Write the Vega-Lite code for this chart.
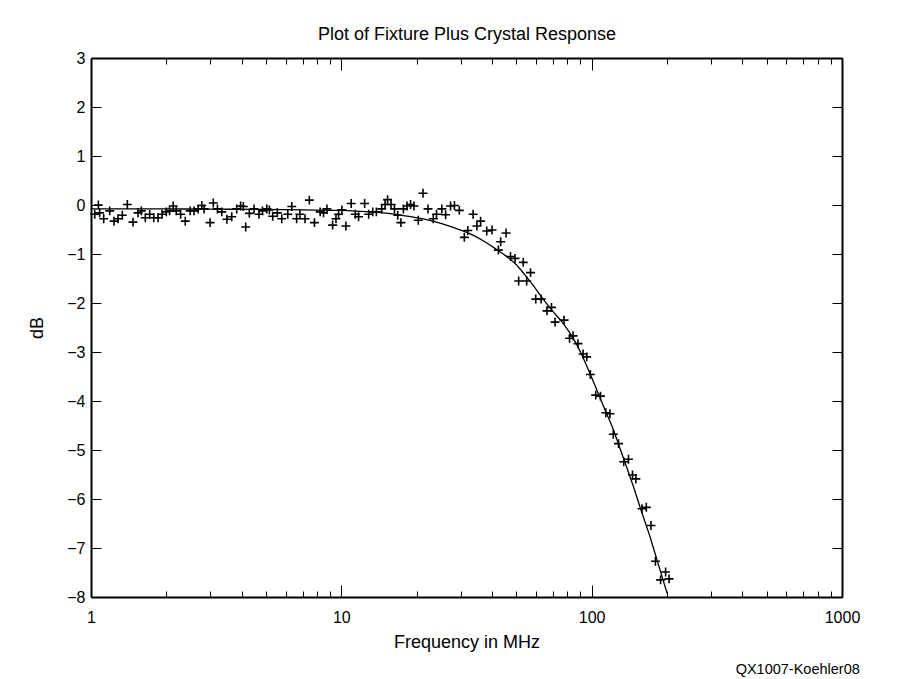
{
  "$schema": "https://vega.github.io/schema/vega-lite/v6.json",
  "width": 751,
  "height": 539,
  "autosize": {"type": "none"},
  "padding": {"left": 91, "top": 58, "right": 58, "bottom": 82},
  "background": "white",
  "config": {
    "font": "Liberation Sans",
    "view": {"stroke": null},
    "axis": {
      "domainColor": "black",
      "domainWidth": 2,
      "tickColor": "black",
      "tickWidth": 1,
      "labelColor": "black",
      "titleColor": "black",
      "labelFontSize": 16,
      "titleFontSize": 18,
      "titleFontWeight": "normal",
      "grid": false
    }
  },
  "title": {
    "text": "QX1007-Koehler08",
    "orient": "bottom",
    "anchor": "end",
    "fontSize": 14.5,
    "fontWeight": "normal",
    "color": "black",
    "offset": 12
  },
  "datasets": {
    "pts": [
      {"f": 1.035, "db": -0.19}, {"f": 1.07, "db": 0.0}, {"f": 1.083, "db": -0.16}, {"f": 1.124, "db": -0.28},
      {"f": 1.188, "db": -0.12}, {"f": 1.236, "db": -0.33}, {"f": 1.282, "db": -0.28}, {"f": 1.334, "db": -0.21},
      {"f": 1.397, "db": 0.01}, {"f": 1.471, "db": -0.35}, {"f": 1.541, "db": -0.16}, {"f": 1.589, "db": -0.12},
      {"f": 1.648, "db": -0.26}, {"f": 1.716, "db": -0.19}, {"f": 1.781, "db": -0.26}, {"f": 1.853, "db": -0.26},
      {"f": 1.922, "db": -0.19}, {"f": 2.0, "db": -0.14}, {"f": 2.06, "db": -0.12}, {"f": 2.13, "db": -0.02},
      {"f": 2.19, "db": -0.12}, {"f": 2.28, "db": -0.19}, {"f": 2.38, "db": -0.33}, {"f": 2.49, "db": -0.12},
      {"f": 2.58, "db": -0.12}, {"f": 2.68, "db": -0.08}, {"f": 2.77, "db": -0.01}, {"f": 2.83, "db": -0.08},
      {"f": 2.99, "db": -0.36}, {"f": 3.08, "db": 0.04}, {"f": 3.2, "db": -0.08}, {"f": 3.33, "db": -0.14},
      {"f": 3.49, "db": -0.29}, {"f": 3.65, "db": -0.24}, {"f": 3.82, "db": -0.08}, {"f": 3.96, "db": -0.02},
      {"f": 4.06, "db": -0.03}, {"f": 4.15, "db": -0.45}, {"f": 4.29, "db": -0.17}, {"f": 4.48, "db": -0.08},
      {"f": 4.69, "db": -0.19}, {"f": 4.84, "db": -0.12}, {"f": 5.04, "db": -0.08}, {"f": 5.16, "db": -0.1},
      {"f": 5.32, "db": -0.23}, {"f": 5.55, "db": -0.16}, {"f": 5.78, "db": -0.28}, {"f": 6.11, "db": -0.19},
      {"f": 6.34, "db": -0.03}, {"f": 6.63, "db": -0.28}, {"f": 6.83, "db": -0.19}, {"f": 7.16, "db": -0.28},
      {"f": 7.45, "db": 0.1}, {"f": 7.81, "db": -0.36}, {"f": 8.23, "db": -0.14}, {"f": 8.49, "db": -0.16},
      {"f": 8.76, "db": -0.08}, {"f": 9.23, "db": -0.41}, {"f": 9.52, "db": -0.28}, {"f": 9.75, "db": -0.19},
      {"f": 10.05, "db": -0.1}, {"f": 10.43, "db": -0.43}, {"f": 10.95, "db": 0.03}, {"f": 11.37, "db": -0.19},
      {"f": 11.72, "db": -0.24}, {"f": 12.39, "db": 0.03}, {"f": 12.86, "db": -0.19}, {"f": 13.35, "db": -0.14},
      {"f": 13.8, "db": -0.14}, {"f": 14.5, "db": -0.08}, {"f": 14.95, "db": 0.01}, {"f": 15.3, "db": 0.11},
      {"f": 15.8, "db": 0.01}, {"f": 16.3, "db": -0.08}, {"f": 16.8, "db": -0.21}, {"f": 17.3, "db": -0.36},
      {"f": 17.7, "db": -0.08}, {"f": 18.3, "db": -0.02}, {"f": 18.9, "db": 0.01}, {"f": 19.5, "db": -0.02},
      {"f": 20.3, "db": -0.31}, {"f": 21.2, "db": 0.24}, {"f": 22.2, "db": -0.08}, {"f": 23.3, "db": -0.28},
      {"f": 24.0, "db": -0.19}, {"f": 25.2, "db": -0.08}, {"f": 26.1, "db": -0.2}, {"f": 27.3, "db": -0.02},
      {"f": 28.3, "db": -0.01}, {"f": 29.6, "db": -0.11}, {"f": 31.0, "db": -0.66}, {"f": 32.0, "db": -0.52},
      {"f": 33.6, "db": -0.19}, {"f": 34.8, "db": -0.43}, {"f": 36.0, "db": -0.33}, {"f": 38.1, "db": -0.53},
      {"f": 40.0, "db": -0.51}, {"f": 42.4, "db": -0.92}, {"f": 43.3, "db": -0.75}, {"f": 45.5, "db": -0.57},
      {"f": 47.4, "db": -1.05}, {"f": 49.4, "db": -1.09}, {"f": 51.1, "db": -1.55}, {"f": 53.3, "db": -1.17},
      {"f": 55.0, "db": -1.55}, {"f": 57.0, "db": -1.38}, {"f": 59.8, "db": -1.92}, {"f": 62.8, "db": -1.92},
      {"f": 66.3, "db": -2.16}, {"f": 69.1, "db": -2.09}, {"f": 71.4, "db": -2.39}, {"f": 77.6, "db": -2.35},
      {"f": 81.6, "db": -2.72}, {"f": 84.3, "db": -2.67}, {"f": 88.2, "db": -2.83}, {"f": 92.4, "db": -3.04},
      {"f": 95.6, "db": -3.1}, {"f": 98.8, "db": -3.46}, {"f": 103.8, "db": -3.88}, {"f": 108.4, "db": -3.9},
      {"f": 113.9, "db": -4.24}, {"f": 118.3, "db": -4.26}, {"f": 122.0, "db": -4.68}, {"f": 128.0, "db": -4.87},
      {"f": 134.3, "db": -5.24}, {"f": 140.3, "db": -5.19}, {"f": 145.6, "db": -5.51}, {"f": 150.2, "db": -5.59},
      {"f": 158.9, "db": -6.2}, {"f": 165.3, "db": -6.17}, {"f": 172.6, "db": -6.54}, {"f": 179.8, "db": -7.27},
      {"f": 188.5, "db": -7.65}, {"f": 197.4, "db": -7.49}, {"f": 203.7, "db": -7.63}
    ],
    "fit": [
      {"f": 1, "db": -0.08}, {"f": 1.5, "db": -0.08}, {"f": 2, "db": -0.08}, {"f": 3, "db": -0.085},
      {"f": 5, "db": -0.09}, {"f": 7, "db": -0.1}, {"f": 10, "db": -0.11}, {"f": 12, "db": -0.13},
      {"f": 14, "db": -0.15}, {"f": 16, "db": -0.18}, {"f": 18, "db": -0.22}, {"f": 21, "db": -0.28},
      {"f": 24, "db": -0.35}, {"f": 27, "db": -0.43}, {"f": 31, "db": -0.54}, {"f": 34, "db": -0.63},
      {"f": 38, "db": -0.77}, {"f": 42, "db": -0.92}, {"f": 46, "db": -1.06}, {"f": 50, "db": -1.22},
      {"f": 54, "db": -1.42}, {"f": 58, "db": -1.62}, {"f": 64, "db": -1.92}, {"f": 70, "db": -2.17},
      {"f": 77, "db": -2.42}, {"f": 84, "db": -2.7}, {"f": 90, "db": -2.99}, {"f": 97, "db": -3.36},
      {"f": 105, "db": -3.78}, {"f": 113, "db": -4.18}, {"f": 122, "db": -4.58}, {"f": 130, "db": -4.98},
      {"f": 138, "db": -5.35}, {"f": 146, "db": -5.71}, {"f": 158, "db": -6.25}, {"f": 171, "db": -6.77},
      {"f": 185, "db": -7.35}, {"f": 200, "db": -7.92}
    ]
  },
  "layer": [
    {
      "data": {"name": "pts"},
      "mark": {"type": "point", "shape": "M-1,0H1M0,-1V1", "size": 80, "stroke": "black", "strokeWidth": 1.6, "filled": false, "opacity": 1},
      "encoding": {
        "x": {
          "field": "f", "type": "quantitative",
          "scale": {"type": "log", "domain": [1, 1000], "nice": false},
          "axis": {
            "orient": "bottom",
            "title": "Frequency in MHz",
            "values": [1,2,3,4,5,6,7,8,9,10,20,30,40,50,60,70,80,90,100,200,300,400,500,600,700,800,900,1000],
            "tickSize": {"condition": {"test": "indexof([1,10,100,1000], datum.value) >= 0", "value": -12}, "value": -6},
            "labelExpr": "indexof([1,10,100,1000], datum.value) >= 0 ? format(datum.value, 'd') : ''",
            "labelFlush": false,
            "labelOverlap": false,
            "labelPadding": 24,
            "titlePadding": 2
          }
        },
        "y": {
          "field": "db", "type": "quantitative",
          "scale": {"domain": [-8, 3], "nice": false, "zero": false},
          "axis": {
            "orient": "left",
            "title": "dB",
            "values": [-8,-7,-6,-5,-4,-3,-2,-1,0,1,2,3],
            "tickSize": -10,
            "labelPadding": 16,
            "labelFlush": false,
            "labelOverlap": false,
            "titlePadding": 20
          }
        }
      }
    },
    {
      "data": {"name": "fit"},
      "mark": {"type": "line", "color": "black", "strokeWidth": 1.3, "interpolate": "monotone"},
      "encoding": {
        "x": {
          "field": "f", "type": "quantitative",
          "scale": {"type": "log", "domain": [1, 1000], "nice": false},
          "axis": {
            "orient": "top",
            "title": "Plot of Fixture Plus Crystal Response",
            "titleFontSize": 18,
            "values": [1,2,3,4,5,6,7,8,9,10,20,30,40,50,60,70,80,90,100,200,300,400,500,600,700,800,900,1000],
            "tickSize": {"condition": {"test": "indexof([1,10,100,1000], datum.value) >= 0", "value": -12}, "value": -6},
            "labels": false,
            "titlePadding": 14
          }
        },
        "y": {
          "field": "db", "type": "quantitative",
          "scale": {"domain": [-8, 3], "nice": false, "zero": false},
          "axis": {
            "orient": "right",
            "title": null,
            "values": [-8,-7,-6,-5,-4,-3,-2,-1,0,1,2,3],
            "tickSize": -10,
            "labels": false
          }
        }
      }
    }
  ],
  "resolve": {"axis": {"x": "independent", "y": "independent"}}
}
